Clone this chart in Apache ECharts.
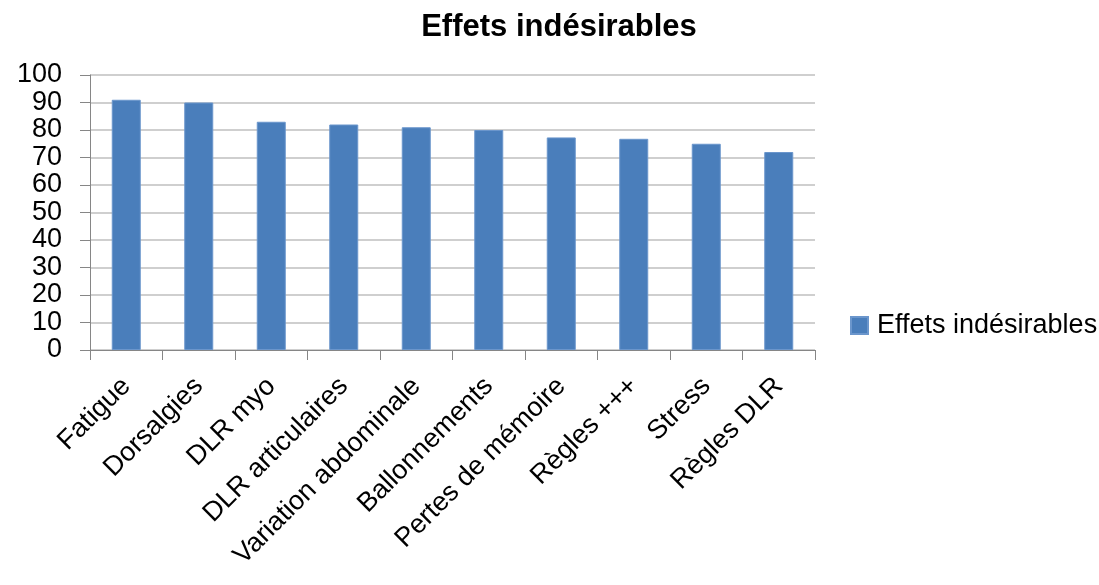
<!DOCTYPE html>
<html>
<head>
<meta charset="utf-8">
<script src="https://cdn.jsdelivr.net/npm/echarts@6/dist/echarts.min.js"></script>
<style>
  html, body { margin: 0; padding: 0; background: #ffffff; }
  #chart { width: 1099px; height: 585px; }
</style>
</head>
<body>
<div id="chart"></div>
<script>
// Side effects reported, as a share of respondents
const categories = [
  'Fatigue', 'Dorsalgies', 'DLR myo', 'DLR articulaires', 'Variation abdominale',
  'Ballonnements', 'Pertes de mémoire', 'Règles +++', 'Stress', 'Règles DLR'
];
const values = [91, 90, 83, 82, 81, 80, 77.3, 76.8, 75, 72];
const seriesName = 'Effets indésirables';
const titleText = 'Effets indésirables';

const FONT = '"Liberation Sans", Arial, sans-serif';
const chart = echarts.init(document.getElementById('chart'), null, { renderer: 'canvas' });

chart.setOption({
  animation: false,
  backgroundColor: '#ffffff',
  title: {
    text: titleText,
    left: 554,
    textAlign: 'center',
    top: 7,
    textStyle: { fontFamily: FONT, fontWeight: 'bold', fontSize: 31, color: '#000000' }
  },
  legend: {
    data: [seriesName],
    left: 845,
    top: 307,
    icon: 'rect',
    itemWidth: 17,
    itemHeight: 17,
    itemGap: 0,
    textStyle: { fontFamily: FONT, fontSize: 27, color: '#000000', padding: [0, 0, 0, 4] }
  },
  grid: { left: 90, right: 284, top: 75, bottom: 235, containLabel: false },
  xAxis: {
    type: 'category',
    data: categories,
    axisLine: { show: true, lineStyle: { color: '#868686', width: 1 } },
    axisTick: { show: true, alignWithLabel: false, length: 10, lineStyle: { color: '#868686' } },
    axisLabel: {
      rotate: 45,
      interval: 0,
      margin: 32,
      fontFamily: FONT,
      fontSize: 27,
      color: '#000000'
    }
  },
  yAxis: {
    type: 'value',
    min: 0,
    max: 100,
    interval: 10,
    axisLine: { show: true, lineStyle: { color: '#868686', width: 1 } },
    axisTick: { show: true, length: 10, lineStyle: { color: '#868686' } },
    axisLabel: { margin: 28, fontFamily: FONT, fontSize: 27, color: '#000000' },
    splitLine: { show: true, lineStyle: { color: '#bfbfbf', width: 1.5 } }
  },
  series: [{
    name: seriesName,
    type: 'bar',
    data: values,
    barWidth: '40%',
    itemStyle: { color: '#4a7ebb', borderColor: '#6b96cc', borderWidth: 1 }
  }]
});
</script>
</body>
</html>
